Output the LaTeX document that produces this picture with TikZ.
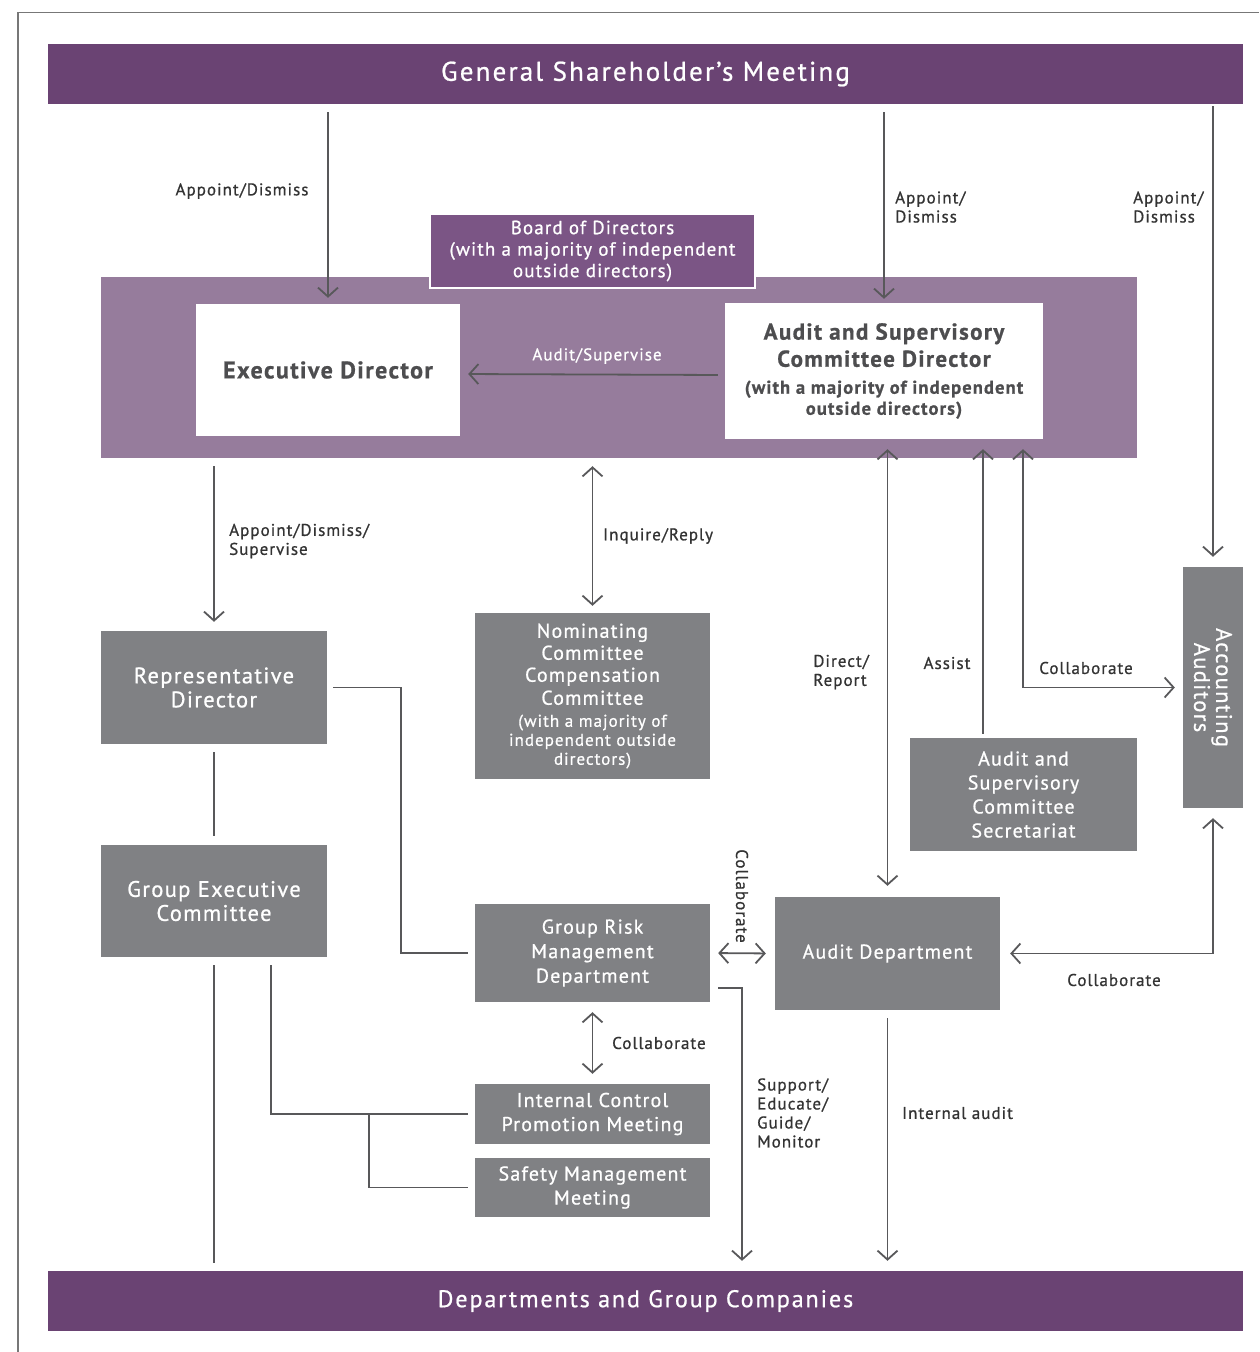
\documentclass[tikz,border=0pt]{standalone}
\usepackage{fontspec}
\setmainfont{PT Sans}[FakeBold=0.8, LetterSpace=6]
\usetikzlibrary{arrows.meta}
\definecolor{dpurple}{HTML}{6A4373}
\definecolor{lpurple}{HTML}{967C9C}
\definecolor{bpurple}{HTML}{7B5585}
\definecolor{boxgray}{HTML}{808184}
\definecolor{linegray}{HTML}{58585A}
\definecolor{txtdark}{HTML}{333333}
\definecolor{wtxt}{HTML}{4D4D4F}
\definecolor{framegray}{HTML}{777777}
\begin{document}
\begin{tikzpicture}[x=1pt,y=-1pt,
  bar/.style={fill=dpurple, text=white, minimum width=1195pt, minimum height=60pt, inner sep=0pt, font=\fontsize{27}{30}\selectfont\addfontfeatures{LetterSpace=8}},
  gbox/.style={fill=boxgray, text=white, align=center, inner sep=0pt, font=\fontsize{20}{24}\selectfont},
  wbox/.style={fill=white, text=wtxt, align=center, inner sep=0pt, font=\bfseries\fontsize{24}{26}\selectfont},
  lbl/.style={text=txtdark, align=left, inner sep=0pt, font=\fontsize{17}{19}\selectfont},
  conn/.style={draw=linegray, line width=1.8pt},
  arr/.style={conn, -{Straight Barb[length=9pt,width=20pt,line width=1.8pt]}},
  darr/.style={conn, {Straight Barb[length=9pt,width=20pt,line width=1.8pt]}-{Straight Barb[length=9pt,width=20pt,line width=1.8pt]}}
]
\useasboundingbox (0,0) rectangle (1259,1352);
\draw[framegray, line width=1.5pt] (18,1352) -- (18,12.5) -- (1259,12.5);

% bars
\node[bar] (gsm) at (645.5,74) {General Shareholder’s Meeting};
\node[bar, font=\fontsize{24}{28}\selectfont\addfontfeatures{LetterSpace=8}] (dgc) at (645.5,1301) {Departments and Group Companies};

% board band
\node[fill=lpurple, minimum width=1036pt, minimum height=181pt, inner sep=0pt] (band) at (619,367.5) {};
\node[fill=bpurple, draw=white, line width=2pt, minimum width=325pt, minimum height=74pt, inner sep=0pt, text=white, align=center, font=\fontsize{19}{21.5}\selectfont] (board) at (592.5,251) {Board of Directors\\(with a majority of independent\\outside directors)};
\node[wbox, minimum width=264pt, minimum height=132pt] (exec) at (328,370) {Executive Director};
\node[wbox, minimum width=318pt, minimum height=136pt, font=\bfseries\fontsize{18.5}{21}\selectfont] (ascd) at (884,371) {{\fontsize{23}{26}\selectfont Audit and Supervisory}\\[5pt]{\fontsize{23}{26}\selectfont Committee Director}\\[6pt](with a majority of independent\\outside directors)};

% gray boxes
\node[gbox, minimum width=60pt, minimum height=241pt] (acc) at (1213,687.5) {};
\node[rotate=-90, text=white, align=center, inner sep=0pt, font=\fontsize{22.5}{22}\selectfont] (acct) at (acc.center) {Accounting\\Auditors};
\node[gbox, minimum width=226pt, minimum height=113pt, font=\fontsize{22.5}{24}\selectfont] (rep) at (214,687.5) {Representative\\Director};
\node[gbox, minimum width=226pt, minimum height=112pt, font=\fontsize{22.5}{24}\selectfont] (gec) at (214,901) {Group Executive\\Committee};
\node[gbox, minimum width=235pt, minimum height=166pt, font=\fontsize{17}{19}\selectfont] (nom) at (592.5,696) {{\fontsize{20}{22}\selectfont Nominating}\\[3pt]{\fontsize{20}{22}\selectfont Committee}\\[3pt]{\fontsize{20}{22}\selectfont Compensation}\\[4pt]{\fontsize{20}{22}\selectfont Committee}\\[3pt](with a majority of\\independent outside\\directors)};
\node[gbox, minimum width=235pt, minimum height=98pt, font=\fontsize{20}{24.5}\selectfont] (grm) at (592.5,953) {Group Risk\\Management\\Department};
\node[gbox, minimum width=235pt, minimum height=60pt, font=\fontsize{20}{24}\selectfont] (icp) at (592.5,1114) {Internal Control\\Promotion Meeting};
\node[gbox, minimum width=235pt, minimum height=59pt, font=\fontsize{20}{24}\selectfont] (saf) at (592.5,1187.5) {Safety Management\\Meeting};
\node[gbox, minimum width=225pt, minimum height=113pt] (ad) at (887.5,953.5) {Audit Department};
\node[gbox, minimum width=227pt, minimum height=113pt, font=\fontsize{20}{24}\selectfont] (sec) at (1023.5,794.5) {Audit and\\Supervisory\\Committee\\Secretariat};

% connectors
\draw[arr, shorten <=8pt, shorten >=6pt] (gsm.south -| exec.north) -- (exec.north);
\draw[arr, shorten <=8pt, shorten >=4pt] (gsm.south -| ascd.north) -- (ascd.north);
\draw[arr, shorten <=2pt, shorten >=10pt] (gsm.south -| acc.north) -- (acc.north);
\draw[arr, shorten <=7pt, shorten >=8pt] ([yshift=-4pt]ascd.west) -- ([yshift=-4pt]exec.east);
\draw[arr, shorten <=8pt, shorten >=9pt] (band.south -| rep.north) -- (rep.north);
\draw[darr, shorten <=8pt, shorten >=7pt] (band.south -| nom.north) -- (nom.north);
\draw[conn, shorten <=8pt, shorten >=9pt] (rep.south) -- (gec.north);
\draw[conn, shorten <=8pt, shorten >=8pt] (gec.south) -- (gec.south |- dgc.north);
\coordinate (ge2) at (271,965);
\draw[conn] (ge2) |- ([xshift=-7pt]icp.west);
\coordinate (br) at (369,1114);
\draw[conn] (br) |- ([xshift=-7pt]saf.west);
\coordinate (rp2) at (401,687.5);
\draw[conn] ([xshift=6pt]rep.east) -- (rp2) |- ([xshift=-7pt]grm.west);
\draw[darr, shorten <=8pt, shorten >=9pt] (grm.east) -- (ad.west);
\draw[darr, shorten <=10pt, shorten >=10pt] (grm.south) -- (icp.north);
\coordinate (s0) at (718,988);
\draw[arr, shorten >=10pt] (s0) -| (dgc.north -| 742,0);
\draw[arr, shorten <=8pt, shorten >=10pt] (ad.south) -- (ad.south |- dgc.north);
\draw[darr, shorten <=10pt, shorten >=11pt] (ascd.south -| ad.north) -- (ad.north);
\draw[arr, shorten <=4pt, shorten >=10pt] (sec.north -| 983,0) -- (ascd.south -| 983,0);
\draw[darr, shorten <=10pt, shorten >=8pt] (ascd.south -| 1023,0) |- (acc.west);
\draw[darr, shorten <=10pt, shorten >=10pt] (ad.east) -| (acc.south);

% labels
\node[lbl] (l1) at (242,191) {Appoint/Dismiss};
\node[lbl, anchor=west] (l2) at (895,207) {Appoint/\\Dismiss};
\node[lbl, anchor=west] (l3) at (1133,207) {Appoint/\\Dismiss};
\node[lbl, text=white] (l4) at (597,356) {Audit/Supervise};
\node[lbl, anchor=west] (l5) at (229,541) {Appoint/Dismiss/\\Supervise};
\node[lbl, anchor=west] (l6) at (603,536) {Inquire/Reply};
\node[lbl, anchor=east] (l7) at (869,672) {Direct/\\Report};
\node[lbl] (l8) at (947,663) {Assist};
\node[lbl] (l9) at (1086,668) {Collaborate};
\node[lbl] (l10) at (1114,980) {Collaborate};
\node[lbl, anchor=west] (l11) at (612,1043) {Collaborate};
\node[lbl, anchor=west] (l12) at (757,1113) {Support/\\Educate/\\Guide/\\Monitor};
\node[lbl, anchor=west] (l13) at (902,1113) {Internal audit};
\node[lbl, rotate=-90] (l14) at (742,896) {Collaborate};
\end{tikzpicture}
\end{document}
